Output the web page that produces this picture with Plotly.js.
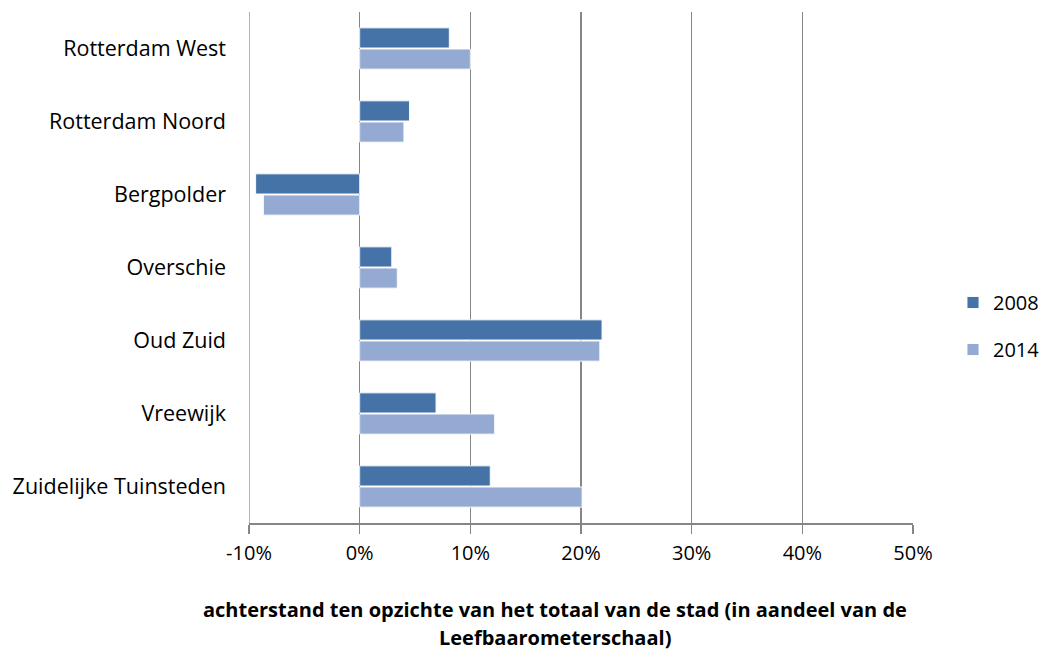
<!DOCTYPE html>
<html>
<head>
<meta charset="utf-8">
<script src="https://cdn.plot.ly/plotly-3.0.1.min.js"></script>
<style>html,body{margin:0;padding:0;background:#fff}#chart{width:1046px;height:652px}</style>
</head>
<body>
<div id="chart"></div>
<script>
const categories = ["Rotterdam West", "Rotterdam Noord", "Bergpolder", "Overschie", "Oud Zuid", "Vreewijk", "Zuidelijke Tuinsteden"];
const values2008 = [0.081, 0.045, -0.094, 0.029, 0.219, 0.069, 0.118];
const values2014 = [0.100, 0.040, -0.087, 0.034, 0.217, 0.122, 0.201];
const xTickVals = [-0.1, 0, 0.1, 0.2, 0.3, 0.4, 0.5];
const xTickText = ["-10%", "0%", "10%", "20%", "30%", "40%", "50%"];
const xTitleLines = ["achterstand ten opzichte van het totaal van de stad (in aandeel van de", "Leefbaarometerschaal)"];

const FONT = "'Open Sans', sans-serif";

const traces = [
  {type: "bar", orientation: "h", name: "2008", legendgroup: "a", y: categories, x: values2008,
   marker: {color: "#4673A7", line: {color: "rgba(255,255,255,0.9)", width: 1}}},
  {type: "bar", orientation: "h", name: "2014", legendgroup: "b", y: categories, x: values2014,
   marker: {color: "#95AAD2", line: {color: "rgba(255,255,255,0.9)", width: 1}}}
];

const layout = {
  width: 1046, height: 652,
  margin: {l: 249, r: 133, t: 12, b: 129},
  paper_bgcolor: "#fff", plot_bgcolor: "#fff",
  font: {family: FONT, size: 21, color: "#000"},
  barmode: "group", bargap: 0.42, bargroupgap: 0.05,
  showlegend: true,
  legend: {xref: "container", yref: "container", x: 953 / 1046, y: 1 - 326 / 652, xanchor: "left", yanchor: "middle",
           font: {size: 20}, traceorder: "grouped", tracegroupgap: 18, itemwidth: 30},
  xaxis: {
    range: [-0.1, 0.5], tickvals: xTickVals, ticktext: xTickText,
    showgrid: true, gridcolor: "#868686", gridwidth: 1.5,
    zeroline: false, showline: true, linecolor: "#868686", linewidth: 1.5,
    ticks: "outside", ticklen: 9, tickcolor: "#868686", tickwidth: 1.5,
    tickfont: {size: 20}, ticklabelstandoff: 2, fixedrange: true
  },
  yaxis: {
    autorange: "reversed", type: "category",
    showgrid: false, zeroline: false, showline: false,
    ticks: "", ticklabelstandoff: 22, tickfont: {size: 21.5}, fixedrange: true
  },
  annotations: [
    {xref: "paper", yref: "paper", x: (555 - 249) / 664, y: -0.17, xanchor: "center", yanchor: "middle",
     text: "<b>" + xTitleLines[0] + "</b>", showarrow: false, font: {size: 20}},
    {xref: "paper", yref: "paper", x: (555 - 249) / 664, y: -0.224, xanchor: "center", yanchor: "middle",
     text: "<b>" + xTitleLines[1] + "</b>", showarrow: false, font: {size: 20}}
  ],
  shapes: [
    {type: "line", xref: "x", yref: "paper", x0: -0.1, x1: -0.1, y0: 0, y1: 1, line: {color: "#9a9a9a", width: 1.5}}
  ]
};

Plotly.newPlot("chart", traces, layout, {displayModeBar: false, staticPlot: true});
</script>
</body>
</html>
